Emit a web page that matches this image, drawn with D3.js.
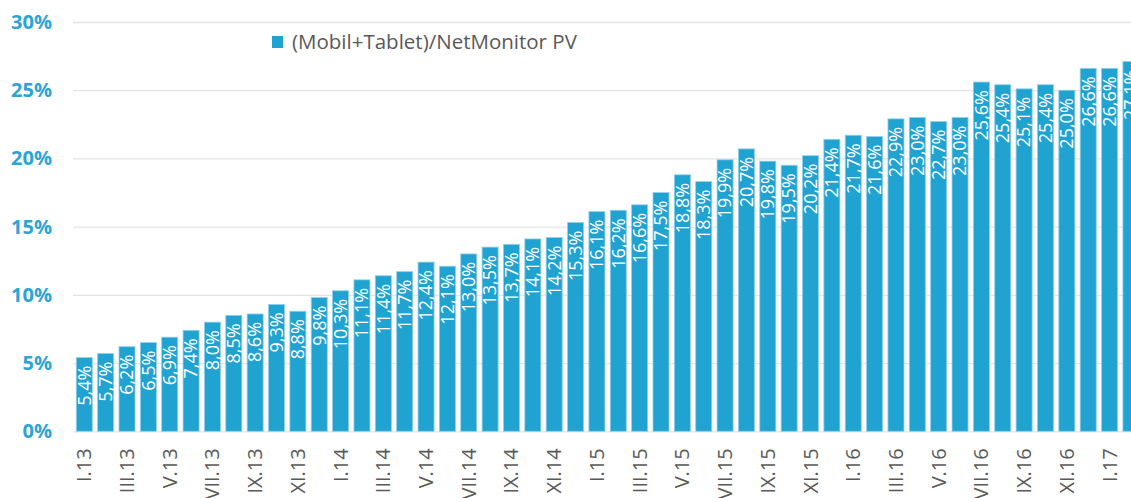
<!DOCTYPE html>
<html>
<head>
<meta charset="utf-8">
<script src="https://cdn.jsdelivr.net/npm/d3@7"></script>
<style>
  html, body { margin: 0; padding: 0; background: #fff; overflow: hidden; }
  svg { display: block; font-family: "Open Sans", "Noto Sans", sans-serif; }
</style>
</head>
<body>
<div class="chart"></div>
<script>
// months I.13 .. II.17
const months = [
  "I.13","II.13","III.13","IV.13","V.13","VI.13","VII.13","VIII.13","IX.13","X.13","XI.13","XII.13",
  "I.14","II.14","III.14","IV.14","V.14","VI.14","VII.14","VIII.14","IX.14","X.14","XI.14","XII.14",
  "I.15","II.15","III.15","IV.15","V.15","VI.15","VII.15","VIII.15","IX.15","X.15","XI.15","XII.15",
  "I.16","II.16","III.16","IV.16","V.16","VI.16","VII.16","VIII.16","IX.16","X.16","XI.16","XII.16",
  "I.17","II.17"
];
// (Mobil+Tablet)/NetMonitor PV, in %
const share = [
  5.4, 5.7, 6.2, 6.5, 6.9, 7.4, 8.0, 8.5, 8.6, 9.3, 8.8, 9.8,
  10.3, 11.1, 11.4, 11.7, 12.4, 12.1, 13.0, 13.5, 13.7, 14.1, 14.2, 15.3,
  16.1, 16.2, 16.6, 17.5, 18.8, 18.3, 19.9, 20.7, 19.8, 19.5, 20.2, 21.4,
  21.7, 21.6, 22.9, 23.0, 22.7, 23.0, 25.6, 25.4, 25.1, 25.4, 25.0, 26.6,
  26.6, 27.1
];
const yTicks = [0, 5, 10, 15, 20, 25, 30];
const xTicks = months.filter((m, i) => i % 2 === 0);
const seriesName = "(Mobil+Tablet)/NetMonitor PV";

const W = 1131, H = 498;
const barColor = "#21a3d1";
const textGrey = "#595959";

const svg = d3.select(".chart").append("svg")
  .attr("width", W)
  .attr("height", H);

const x = d3.scaleBand()
  .domain(months)
  .range([73.6, 73.6 + months.length * 21.36])
  .paddingInner(0.25)
  .paddingOuter(0.125);

const y = d3.scaleLinear()
  .domain([0, 30])
  .range([431.3, 22]);

// gridlines
svg.append("g")
  .attr("transform", "translate(73,0)")
  .call(d3.axisLeft(y).tickValues(yTicks).tickSize(-(W - 73)).tickFormat(""))
  .call(g => g.select(".domain").remove())
  .call(g => g.selectAll("line").attr("stroke", "#e4e4e4").attr("stroke-width", 1.3));

// y labels
svg.append("g")
  .attr("transform", "translate(52,0)")
  .call(d3.axisLeft(y).tickValues(yTicks).tickSize(0).tickPadding(0).tickFormat(d => d + "%"))
  .call(g => g.select(".domain").remove())
  .call(g => g.selectAll("text")
    .attr("fill", "#2aa5d5")
    .attr("font-size", 20)
    .attr("font-weight", 700)
    .attr("font-family", "'Open Sans', sans-serif"));

// bars
svg.append("g").selectAll("rect")
  .data(share)
  .join("rect")
    .attr("x", (d, i) => x(months[i]))
    .attr("y", d => y(d))
    .attr("width", x.bandwidth())
    .attr("height", d => y(0) - y(d))
    .attr("fill", barColor)
    .attr("stroke", "#8fd0ea")
    .attr("stroke-width", 0.8);

// value labels inside bars
svg.append("g").selectAll("text")
  .data(share)
  .join("text")
    .attr("transform", (d, i) => `translate(${x(months[i]) + x.bandwidth() / 2},${y(d) + 8}) rotate(-90)`)
    .attr("text-anchor", "end")
    .attr("dy", "0.35em")
    .attr("fill", "#fff")
    .attr("font-size", 18)
    .text(d => d.toFixed(1).replace(".", ",") + "%");

// x axis labels
svg.append("g")
  .attr("transform", `translate(0,${y(0)})`)
  .call(d3.axisBottom(x).tickValues(xTicks).tickSize(0))
  .call(g => g.select(".domain").remove())
  .call(g => g.selectAll("text")
    .attr("transform", "translate(0,17) rotate(-90)")
    .attr("text-anchor", "end")
    .attr("x", 0)
    .attr("y", 0)
    .attr("dy", "0.35em")
    .attr("fill", textGrey)
    .attr("font-size", 20)
    .attr("font-family", "'Open Sans', sans-serif"));

// legend
const legend = svg.append("g").attr("transform", "translate(272,36)");
legend.append("rect")
  .attr("width", 11)
  .attr("height", 12)
  .attr("fill", barColor);
legend.append("text")
  .attr("x", 20)
  .attr("y", 6)
  .attr("dy", "0.35em")
  .attr("fill", textGrey)
  .attr("font-size", 20.5)
  .text(seriesName);
</script>
</body>
</html>
